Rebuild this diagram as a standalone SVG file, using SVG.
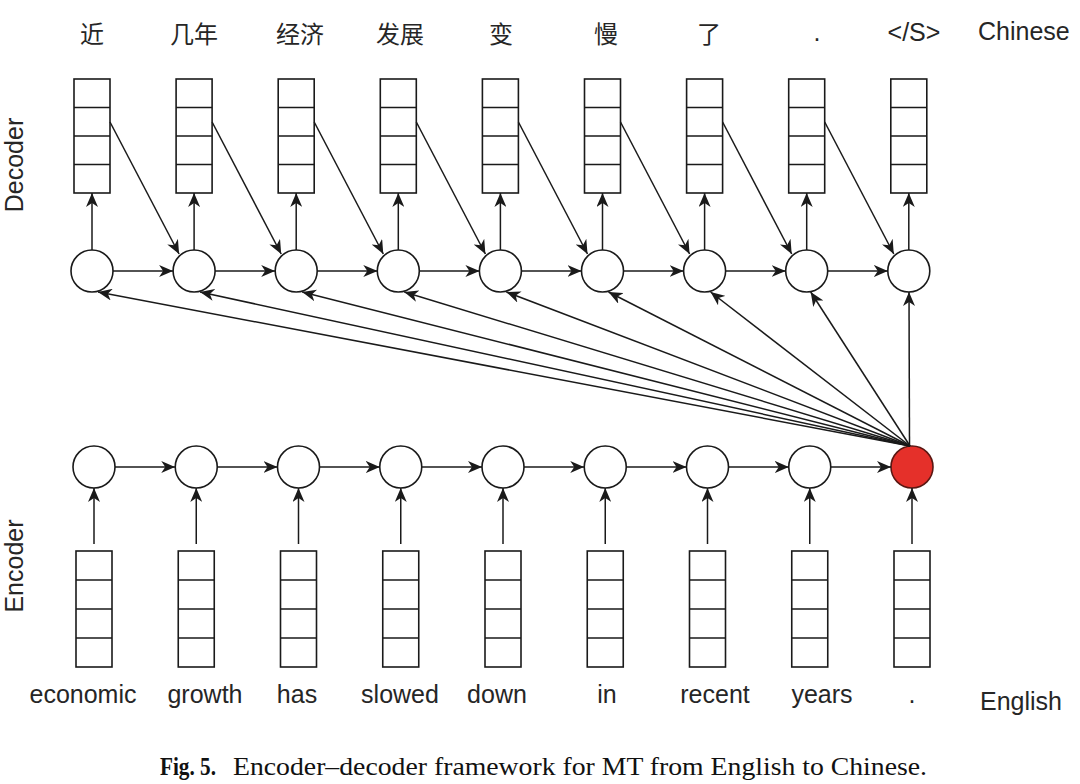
<svg xmlns="http://www.w3.org/2000/svg" width="1080" height="784" viewBox="0 0 1080 784">
<defs>
<marker id="arr" viewBox="0 0 14 12" refX="14" refY="6" markerWidth="14" markerHeight="12" markerUnits="userSpaceOnUse" orient="auto">
<path d="M0,0 L14,6 L0,12 L4,6 Z" fill="#1a1a1a"/>
</marker>
</defs>
<style>
.box{fill:#fff;stroke:#1a1a1a;stroke-width:1.6}
.cell{stroke:#1a1a1a;stroke-width:1.6}
.circ{fill:#fff;stroke:#1a1a1a;stroke-width:1.6}
.red{fill:#e5302a;stroke:#5a1712;stroke-width:1.6}
.ln{stroke:#1a1a1a;stroke-width:1.5;fill:none;marker-end:url(#arr)}
.en{font-family:"Liberation Sans",Arial,sans-serif;font-size:25px;fill:#262626;text-anchor:middle}
.zh{font-family:"Noto Sans CJK SC","Liberation Sans",sans-serif;font-size:24px;fill:#262626;text-anchor:middle}
.cap{font-family:"Liberation Serif","Times New Roman",serif;font-size:26px;fill:#111}
</style>
<rect width="1080" height="784" fill="#fff"/>

<g id="labels">
<text class="zh" x="92" y="43">近</text>
<text class="zh" x="194" y="43">几年</text>
<text class="zh" x="300" y="43">经济</text>
<text class="zh" x="400" y="43">发展</text>
<text class="zh" x="501" y="43">变</text>
<text class="zh" x="606" y="43">慢</text>
<text class="zh" x="709" y="43">了</text>
<text class="en" x="817" y="41">.</text>
<text class="en" x="914" y="41">&lt;/S&gt;</text>
<text class="en" x="978" y="40" style="text-anchor:start">Chinese</text>
<text class="en" x="83" y="703">economic</text>
<text class="en" x="205" y="703">growth</text>
<text class="en" x="297" y="703">has</text>
<text class="en" x="400" y="703">slowed</text>
<text class="en" x="497" y="703">down</text>
<text class="en" x="607" y="703">in</text>
<text class="en" x="715" y="703">recent</text>
<text class="en" x="822" y="703">years</text>
<text class="en" x="912" y="703">.</text>
<text class="en" x="980" y="710" style="text-anchor:start">English</text>
<text class="en" transform="translate(23,165) rotate(-90)">Decoder</text>
<text class="en" transform="translate(23,566) rotate(-90)">Encoder</text>
</g>

<g id="decoder-outputs">
<g id="dbox1"><rect class="box" x="74" y="79" width="36" height="114"/><path class="cell" d="M74,107.5H110M74,136H110M74,164.5H110"/></g>
<g id="dbox2"><rect class="box" x="176.1" y="79" width="36" height="114"/><path class="cell" d="M176.1,107.5h36M176.1,136h36M176.1,164.5h36"/></g>
<g id="dbox3"><rect class="box" x="278.2" y="79" width="36" height="114"/><path class="cell" d="M278.2,107.5h36M278.2,136h36M278.2,164.5h36"/></g>
<g id="dbox4"><rect class="box" x="380.3" y="79" width="36" height="114"/><path class="cell" d="M380.3,107.5h36M380.3,136h36M380.3,164.5h36"/></g>
<g id="dbox5"><rect class="box" x="482.4" y="79" width="36" height="114"/><path class="cell" d="M482.4,107.5h36M482.4,136h36M482.4,164.5h36"/></g>
<g id="dbox6"><rect class="box" x="584.5" y="79" width="36" height="114"/><path class="cell" d="M584.5,107.5h36M584.5,136h36M584.5,164.5h36"/></g>
<g id="dbox7"><rect class="box" x="686.6" y="79" width="36" height="114"/><path class="cell" d="M686.6,107.5h36M686.6,136h36M686.6,164.5h36"/></g>
<g id="dbox8"><rect class="box" x="788.7" y="79" width="36" height="114"/><path class="cell" d="M788.7,107.5h36M788.7,136h36M788.7,164.5h36"/></g>
<g id="dbox9"><rect class="box" x="890.8" y="79" width="36" height="114"/><path class="cell" d="M890.8,107.5h36M890.8,136h36M890.8,164.5h36"/></g>
</g>

<g id="decoder-states">
<circle id="d1" class="circ" cx="92" cy="271" r="21"/>
<circle id="d2" class="circ" cx="194.1" cy="271" r="21"/>
<circle id="d3" class="circ" cx="296.2" cy="271" r="21"/>
<circle id="d4" class="circ" cx="398.3" cy="271" r="21"/>
<circle id="d5" class="circ" cx="500.4" cy="271" r="21"/>
<circle id="d6" class="circ" cx="602.5" cy="271" r="21"/>
<circle id="d7" class="circ" cx="704.6" cy="271" r="21"/>
<circle id="d8" class="circ" cx="806.7" cy="271" r="21"/>
<circle id="d9" class="circ" cx="908.8" cy="271" r="21"/>
</g>

<g id="encoder-states">
<circle id="e1" class="circ" cx="94" cy="467" r="21"/>
<circle id="e2" class="circ" cx="196.25" cy="467" r="21"/>
<circle id="e3" class="circ" cx="298.5" cy="467" r="21"/>
<circle id="e4" class="circ" cx="400.75" cy="467" r="21"/>
<circle id="e5" class="circ" cx="503" cy="467" r="21"/>
<circle id="e6" class="circ" cx="605.25" cy="467" r="21"/>
<circle id="e7" class="circ" cx="707.5" cy="467" r="21"/>
<circle id="e8" class="circ" cx="809.75" cy="467" r="21"/>
<circle id="e9" class="red" cx="912" cy="467" r="21"/>
</g>

<g id="encoder-inputs">
<g id="ebox1"><rect class="box" x="76" y="551" width="36" height="116"/><path class="cell" d="M76,580h36M76,609h36M76,638h36"/></g>
<g id="ebox2"><rect class="box" x="178.25" y="551" width="36" height="116"/><path class="cell" d="M178.25,580h36M178.25,609h36M178.25,638h36"/></g>
<g id="ebox3"><rect class="box" x="280.5" y="551" width="36" height="116"/><path class="cell" d="M280.5,580h36M280.5,609h36M280.5,638h36"/></g>
<g id="ebox4"><rect class="box" x="382.75" y="551" width="36" height="116"/><path class="cell" d="M382.75,580h36M382.75,609h36M382.75,638h36"/></g>
<g id="ebox5"><rect class="box" x="485" y="551" width="36" height="116"/><path class="cell" d="M485,580h36M485,609h36M485,638h36"/></g>
<g id="ebox6"><rect class="box" x="587.25" y="551" width="36" height="116"/><path class="cell" d="M587.25,580h36M587.25,609h36M587.25,638h36"/></g>
<g id="ebox7"><rect class="box" x="689.5" y="551" width="36" height="116"/><path class="cell" d="M689.5,580h36M689.5,609h36M689.5,638h36"/></g>
<g id="ebox8"><rect class="box" x="791.75" y="551" width="36" height="116"/><path class="cell" d="M791.75,580h36M791.75,609h36M791.75,638h36"/></g>
<g id="ebox9"><rect class="box" x="894" y="551" width="36" height="116"/><path class="cell" d="M894,580h36M894,609h36M894,638h36"/></g>
</g>

<g id="connectors">
<line class="ln" x1="92" y1="250" x2="92" y2="193"/>
<line class="ln" x1="194.1" y1="250" x2="194.1" y2="193"/>
<line class="ln" x1="296.2" y1="250" x2="296.2" y2="193"/>
<line class="ln" x1="398.3" y1="250" x2="398.3" y2="193"/>
<line class="ln" x1="500.4" y1="250" x2="500.4" y2="193"/>
<line class="ln" x1="602.5" y1="250" x2="602.5" y2="193"/>
<line class="ln" x1="704.6" y1="250" x2="704.6" y2="193"/>
<line class="ln" x1="806.7" y1="250" x2="806.7" y2="193"/>
<line class="ln" x1="908.8" y1="250" x2="908.8" y2="193"/>
<line class="ln" x1="113" y1="271" x2="173.1" y2="271"/>
<line class="ln" x1="215.1" y1="271" x2="275.2" y2="271"/>
<line class="ln" x1="317.2" y1="271" x2="377.3" y2="271"/>
<line class="ln" x1="419.3" y1="271" x2="479.4" y2="271"/>
<line class="ln" x1="521.4" y1="271" x2="581.5" y2="271"/>
<line class="ln" x1="623.5" y1="271" x2="683.6" y2="271"/>
<line class="ln" x1="725.6" y1="271" x2="785.7" y2="271"/>
<line class="ln" x1="827.7" y1="271" x2="887.8" y2="271"/>
<line class="ln" x1="110" y1="122" x2="179.1" y2="254"/>
<line class="ln" x1="212.1" y1="122" x2="281.2" y2="254"/>
<line class="ln" x1="314.2" y1="122" x2="383.3" y2="254"/>
<line class="ln" x1="416.3" y1="122" x2="485.4" y2="254"/>
<line class="ln" x1="518.4" y1="122" x2="587.5" y2="254"/>
<line class="ln" x1="620.5" y1="122" x2="689.6" y2="254"/>
<line class="ln" x1="722.6" y1="122" x2="791.7" y2="254"/>
<line class="ln" x1="824.7" y1="122" x2="893.8" y2="254"/>
<line class="ln" x1="115" y1="467" x2="175.25" y2="467"/>
<line class="ln" x1="217.25" y1="467" x2="277.5" y2="467"/>
<line class="ln" x1="319.5" y1="467" x2="379.75" y2="467"/>
<line class="ln" x1="421.75" y1="467" x2="482" y2="467"/>
<line class="ln" x1="524" y1="467" x2="584.25" y2="467"/>
<line class="ln" x1="626.25" y1="467" x2="686.5" y2="467"/>
<line class="ln" x1="728.5" y1="467" x2="788.75" y2="467"/>
<line class="ln" x1="830.75" y1="467" x2="891" y2="467"/>
<line class="ln" x1="94" y1="544" x2="94" y2="488"/>
<line class="ln" x1="196.25" y1="544" x2="196.25" y2="488"/>
<line class="ln" x1="298.5" y1="544" x2="298.5" y2="488"/>
<line class="ln" x1="400.75" y1="544" x2="400.75" y2="488"/>
<line class="ln" x1="503" y1="544" x2="503" y2="488"/>
<line class="ln" x1="605.25" y1="544" x2="605.25" y2="488"/>
<line class="ln" x1="707.5" y1="544" x2="707.5" y2="488"/>
<line class="ln" x1="809.75" y1="544" x2="809.75" y2="488"/>
<line class="ln" x1="912" y1="544" x2="912" y2="488"/>
<line class="ln" x1="910" y1="446" x2="98" y2="292"/>
<line class="ln" x1="910" y1="446" x2="200.1" y2="292"/>
<line class="ln" x1="910" y1="446" x2="302.2" y2="292"/>
<line class="ln" x1="910" y1="446" x2="404.3" y2="292"/>
<line class="ln" x1="910" y1="446" x2="506.4" y2="292"/>
<line class="ln" x1="910" y1="446" x2="608.5" y2="292"/>
<line class="ln" x1="910" y1="446" x2="710.6" y2="292"/>
<line class="ln" x1="910" y1="446" x2="810.7" y2="292"/>
<line class="ln" x1="909.5" y1="446" x2="909" y2="292"/>
</g>

<g id="caption">
<text class="cap" x="160" y="775" font-weight="bold" textLength="56" lengthAdjust="spacingAndGlyphs">Fig. 5.</text>
<text class="cap" x="233" y="775" textLength="694" lengthAdjust="spacingAndGlyphs">Encoder–decoder framework for MT from English to Chinese.</text>
</g>
</svg>
